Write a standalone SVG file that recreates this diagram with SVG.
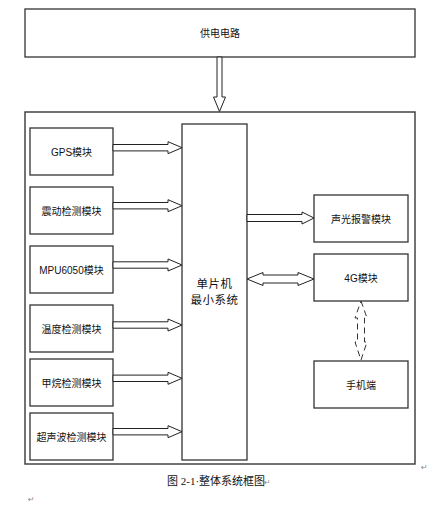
<svg xmlns="http://www.w3.org/2000/svg" xmlns:xlink="http://www.w3.org/1999/xlink" width="434" height="507" viewBox="0 0 434 507">
<style>
.box{fill:#fff;stroke:#333;stroke-width:1.3}
.outer{fill:#fff;stroke:#444;stroke-width:1.5}
.arr{fill:#fff;stroke:#222;stroke-width:1}
.dash{fill:#fff;stroke:#333;stroke-width:1;stroke-dasharray:6,4}
.t{font-family:"Liberation Sans","Noto Sans CJK SC",sans-serif;font-size:10px;fill:#111;text-anchor:middle;dominant-baseline:central}
.m{font-family:"Liberation Sans","Noto Sans CJK SC",sans-serif;font-size:11.5px;fill:#111;text-anchor:middle;letter-spacing:0.5px}
.cap{font-family:"Liberation Serif","Noto Sans CJK SC",serif;font-size:11px;fill:#111}
.pm{font-family:"DejaVu Sans",sans-serif;font-size:8px;fill:#888}
</style>
<defs>
<path id="ra" d="M0,-3.2 H55 V-6 L69,0 L55,6 V3.2 H0 Z"/>
</defs>
<rect x="0" y="0" width="434" height="507" fill="#fff"/>
<g id="power">
<rect class="box" x="25" y="9" width="390" height="48"/>
<text class="t" x="220" y="33">供电电路</text>
</g>
<g id="system">
<rect class="outer" x="25" y="112" width="390" height="352"/>
</g>
<g id="gps"><rect class="box" x="30" y="128" width="83" height="47"/><text class="t" x="71.5" y="152">GPS模块</text></g>
<g id="vibration"><rect class="box" x="30" y="187" width="83" height="47"/><text class="t" x="71.5" y="211">震动检测模块</text></g>
<g id="mpu"><rect class="box" x="30" y="246" width="83" height="47"/><text class="t" x="71.5" y="270">MPU6050模块</text></g>
<g id="temp"><rect class="box" x="30" y="305" width="83" height="47"/><text class="t" x="71.5" y="329">温度检测模块</text></g>
<g id="methane"><rect class="box" x="30" y="359" width="83" height="47"/><text class="t" x="71.5" y="383">甲烷检测模块</text></g>
<g id="ultrasonic"><rect class="box" x="30" y="413" width="83" height="47"/><text class="t" x="71.5" y="437">超声波检测模块</text></g>
<g id="mcu"><rect class="box" x="182" y="124" width="65" height="336"/>
<text class="m" x="214.5" y="288">单片机</text>
<text class="m" x="214.5" y="304">最小系统</text></g>
<g id="alarm"><rect class="box" x="314" y="195" width="94" height="47"/><text class="t" x="361" y="219">声光报警模块</text></g>
<g id="m4g"><rect class="box" x="314" y="254" width="94" height="47"/><text class="t" x="361" y="278">4G模块</text></g>
<g id="phone"><rect class="box" x="314" y="361" width="94" height="47"/><text class="t" x="361" y="385">手机端</text></g>
<g id="connectors">
<path class="arr" d="M217,57 V97 H213.5 L219.5,111.5 L225.5,97 H222 V57 Z"/>
<use class="arr" xlink:href="#ra" transform="translate(113,147.7)"/>
<use class="arr" xlink:href="#ra" transform="translate(113,205.7)"/>
<use class="arr" xlink:href="#ra" transform="translate(113,265)"/>
<use class="arr" xlink:href="#ra" transform="translate(113,325)"/>
<use class="arr" xlink:href="#ra" transform="translate(113,378.3)"/>
<use class="arr" xlink:href="#ra" transform="translate(113,431.7)"/>
<path class="arr" d="M247,214.5 H302 V212 L314,218 L302,224 V221.5 H247 Z"/>
<path class="arr" d="M247,279 L263,272.5 V275 H298 V272.5 L314,279 L298,285.5 V283 H263 V285.5 Z"/>
<path class="dash" d="M361,301 L367,318 H364.5 V342 H367 L361,360 L355,342 H357.5 V318 H355 Z"/>
</g>
<text class="cap" x="167" y="485">图 2-1·整体系统框图</text>
<text class="pm" x="264" y="485">↵</text>
<text class="pm" x="421" y="470">↵</text>
<text class="pm" x="28" y="502">↵</text>
</svg>
